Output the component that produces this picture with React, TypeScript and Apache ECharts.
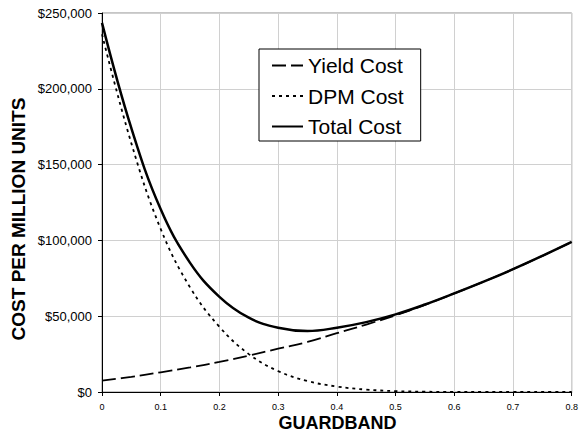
import React, { useEffect, useRef } from "react";
import * as echarts from "echarts";

const guardband = [0, 0.05, 0.1, 0.15, 0.2, 0.25, 0.3, 0.35, 0.4, 0.45, 0.5, 0.55, 0.6, 0.65, 0.7, 0.75, 0.8];
const yieldCost = [7500, 10000, 13000, 16200, 19800, 24000, 28600, 33000, 38800, 44500, 50600, 57500, 65000, 72800, 81000, 89800, 99000];
const dpmCost = [236000, 164000, 107500, 69000, 43000, 25000, 13800, 7200, 3600, 1600, 600, 200, 50, 0, 0, 0, 0];
const totalCost = [243500, 174000, 120500, 85200, 62800, 49000, 42400, 40200, 42400, 46100, 51200, 57700, 65050, 72800, 81000, 89800, 99000];

const seriesNames = ["Yield Cost", "DPM Cost", "Total Cost"];
const xTitle = "GUARDBAND";
const yTitle = "COST PER MILLION UNITS";

const FONT = "Liberation Sans, Arial, sans-serif";

export default function App() {
  const ref = useRef<HTMLDivElement>(null);
  useEffect(() => {
    if (!ref.current) return;
    const chart = echarts.init(ref.current, undefined, { renderer: "svg" });
    const pairs = (ys: number[]) => guardband.map((g, i) => [g, ys[i]]);
    chart.setOption({
      animation: false,
      backgroundColor: "#fff",
      grid: {
        left: 102,
        right: 6,
        top: 13,
        bottom: 43,
        show: true,
        borderColor: "#8c8c8c",
        borderWidth: 1,
      },
      xAxis: {
        type: "value",
        min: 0,
        max: 0.8,
        interval: 0.1,
        axisLine: { show: true, onZero: false, lineStyle: { color: "#000", width: 1 } },
        axisTick: { show: true, length: 4, lineStyle: { color: "#000" } },
        axisLabel: {
          margin: 10,
          fontSize: 9,
          color: "#000",
          fontFamily: FONT,
          formatter: (v: number) => (v === 0 ? "0" : v.toFixed(1)),
        },
        splitLine: { show: true, lineStyle: { color: "#d0d0d0", width: 1 } },
      },
      yAxis: {
        type: "value",
        min: 0,
        max: 250000,
        interval: 50000,
        axisLine: { show: true, lineStyle: { color: "#000", width: 1 } },
        axisTick: { show: true, length: 4, lineStyle: { color: "#000" } },
        axisLabel: {
          margin: 10,
          fontSize: 13,
          color: "#000",
          fontFamily: FONT,
          formatter: (v: number) => "$" + v.toLocaleString("en-US"),
        },
        splitLine: { show: true, lineStyle: { color: "#d0d0d0", width: 1 } },
      },
      legend: {
        show: true,
        orient: "vertical",
        left: 259,
        top: 49,
        data: seriesNames,
        backgroundColor: "#fff",
        borderColor: "#000",
        borderWidth: 1,
        padding: [6, 17, 4, 12],
        itemGap: 9.5,
        itemWidth: 31,
        itemHeight: 21,
        itemStyle: { color: "transparent", opacity: 0, borderWidth: 0 },
        textStyle: { fontSize: 21, color: "#000", fontFamily: FONT },
      },
      graphic: [
        {
          type: "text",
          x: 337.5,
          y: 423,
          style: {
            text: xTitle,
            fontSize: 18,
            fontWeight: "bold",
            fontFamily: FONT,
            fill: "#000",
            textAlign: "center",
            textVerticalAlign: "middle",
          },
        },
        {
          type: "text",
          x: 18,
          y: 219,
          rotation: Math.PI / 2,
          style: {
            text: yTitle,
            fontSize: 19,
            fontWeight: "bold",
            fontFamily: FONT,
            fill: "#000",
            textAlign: "center",
            textVerticalAlign: "middle",
          },
        },
      ],
      series: [
        {
          name: seriesNames[0],
          type: "line",
          data: pairs(yieldCost),
          symbol: "none",
          smooth: 0.4,
          color: "#000",
          lineStyle: { color: "#000", width: 1.8, type: [14, 5] },
          z: 3,
        },
        {
          name: seriesNames[1],
          type: "line",
          data: pairs(dpmCost),
          symbol: "none",
          smooth: 0.4,
          color: "#000",
          lineStyle: { color: "#000", width: 1.8, type: [3, 4] },
          z: 2,
        },
        {
          name: seriesNames[2],
          type: "line",
          data: pairs(totalCost),
          symbol: "none",
          smooth: 0.4,
          color: "#000",
          lineStyle: { color: "#000", width: 2.5, type: "solid" },
          z: 4,
        },
      ],
    });
    return () => chart.dispose();
  }, []);
  return (
    <div
      ref={ref}
      style={{ position: "absolute", left: 0, top: 0, width: 581, height: 435 }}
    />
  );
}
